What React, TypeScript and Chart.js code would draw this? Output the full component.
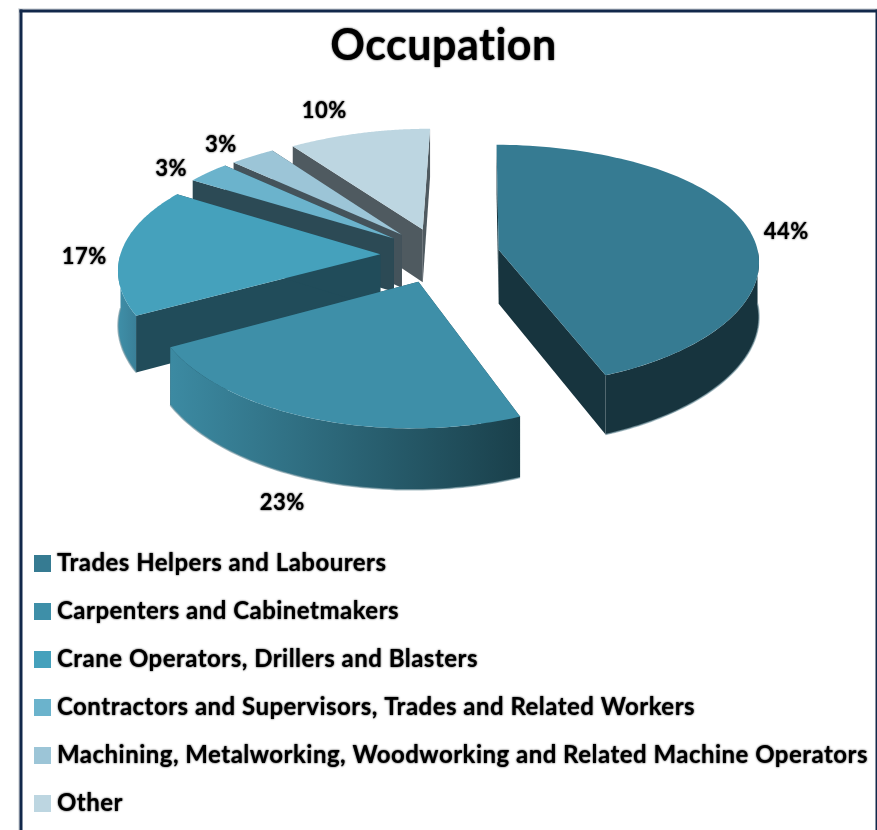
import React, { useEffect, useRef } from "react";
import { Chart, registerables } from "chart.js";

Chart.register(...registerables);

const categories = [
  "Trades Helpers and Labourers",
  "Carpenters and Cabinetmakers",
  "Crane Operators, Drillers and Blasters",
  "Contractors and Supervisors, Trades and Related Workers",
  "Machining, Metalworking, Woodworking and Related Machine Operators",
  "Other",
];
const shares = [44, 23, 17, 3, 3, 10];
const topColors = ["#367B92", "#3E8FA8", "#45A1BC", "#6BB3CC", "#9CC5D7", "#BDD6E1"];
const edgeColors = ["#17343E", "#214C5A", "#214C5A", "#2C4A55", "#44535B", "#4F5A60"];
const rimFrom = ["#17343E", "#3C8AA2", "#3F8FA8", "#2C4A55", "#44535B", "#4F5A60"];
const rimTo = ["#17343E", "#1A404B", "#3A8098", "#2C4A55", "#44535B", "#4F5A60"];
const labelReach = [1.12, 1.2, 1.13, 1.13, 1.2, 1.25];
const labelNudgeX = [9, -6, -4, -15, -8, -25];
const labelNudgeY = [6, -10, 7, 4, 3, -1];

const FONT = "Lato, Carlito, 'Open Sans', sans-serif";
const CX = 440;
const VX = 480;
const CY = 255;
const RX = 260;
const RY = 120;
const DEPTH = 54;
const EXPLODE = 0.23;

const project = (X: number, Y: number, z = 0) => {
  const depthScale = 1 / (1 - 0.1 * Y);
  let p = depthScale;
  if (Y < -0.8) p *= 1 + (Y + 0.8) * 0.1;
  return {
    x: VX + (CX + RX * X - VX) * p,
    y: CY + (RY * Y) / (1 - 0.13 * Y) + z * DEPTH * depthScale,
  };
};

const swatch = (color: string) => {
  const c = document.createElement("canvas");
  c.width = 22;
  c.height = 17;
  const g = c.getContext("2d")!;
  g.fillStyle = color;
  g.fillRect(5, 0, 17, 17);
  return c;
};

const pie3d = {
  id: "pie3d",
  beforeUpdate(chart: any) {
    // a small letter spacing also switches off the "ti" ligature of the font
    chart.ctx.letterSpacing = "0.48px";
  },
  afterLayout(chart: any) {
    if (chart.titleBlock) {
      chart.titleBlock.left = 10;
      chart.titleBlock.right = 877;
    }
    const lg = chart.legend;
    if (lg) {
      lg.left = 11;
      lg.right = 870;
      lg.top = 527;
      lg.bottom = 2000;
    }
  },
  beforeDatasetsDraw(chart: any) {
    const ctx: CanvasRenderingContext2D = chart.ctx;
    const arcs = chart.getDatasetMeta(0).data;
    const slices = arcs.map((el: any, i: number) => {
      const { startAngle, endAngle } = el.getProps(["startAngle", "endAngle"], true);
      const mid = (startAngle + endAngle) / 2;
      return {
        i,
        a: startAngle,
        b: endAngle,
        mid,
        ax: Math.cos(mid) * EXPLODE,
        ay: Math.sin(mid) * EXPLODE,
      };
    });
    const order = [...slices].sort((s, t) => s.ay - t.ay);

    ctx.save();
    const textShadow = ctx.shadowColor;
    ctx.shadowColor = "transparent";
    ctx.shadowBlur = 0;
    for (const s of order) {
      const rim = (phi: number, z = 0) =>
        project(s.ax + Math.cos(phi), s.ay + Math.sin(phi), z);
      const apex = (z = 0) => project(s.ax, s.ay, z);

      // radial walls
      for (const phi of [s.a, s.b]) {
        ctx.beginPath();
        const q = [apex(0), rim(phi, 0), rim(phi, 1), apex(1)];
        q.forEach((pt, k) => (k ? ctx.lineTo(pt.x, pt.y) : ctx.moveTo(pt.x, pt.y)));
        ctx.closePath();
        ctx.fillStyle = edgeColors[s.i];
        ctx.fill();
      }

      // curved outer wall, only the part facing the viewer
      const from = Math.max(s.a, 0);
      const to = Math.min(s.b, Math.PI);
      if (to > from) {
        const steps = 64;
        const lower: { x: number; y: number }[] = [];
        ctx.beginPath();
        for (let k = 0; k <= steps; k++) {
          const phi = from + ((to - from) * k) / steps;
          const t = rim(phi, 0);
          k ? ctx.lineTo(t.x, t.y) : ctx.moveTo(t.x, t.y);
          lower.push(rim(phi, 1));
        }
        for (let k = steps; k >= 0; k--) ctx.lineTo(lower[k].x, lower[k].y);
        ctx.closePath();
        const xs = lower.map((p) => p.x);
        const g = ctx.createLinearGradient(Math.min(...xs), 0, Math.max(...xs), 0);
        g.addColorStop(0, rimFrom[s.i]);
        g.addColorStop(1, rimTo[s.i]);
        ctx.fillStyle = g;
        ctx.fill();
        ctx.beginPath();
        lower.forEach((p, k) => (k ? ctx.lineTo(p.x, p.y) : ctx.moveTo(p.x, p.y)));
        ctx.strokeStyle = "rgba(130,160,170,0.7)";
        ctx.lineWidth = 1.5;
        ctx.stroke();
      }

      // top face
      const steps = 96;
      ctx.beginPath();
      const c0 = apex(0);
      ctx.moveTo(c0.x, c0.y);
      for (let k = 0; k <= steps; k++) {
        const t = rim(s.a + ((s.b - s.a) * k) / steps);
        ctx.lineTo(t.x, t.y);
      }
      ctx.closePath();
      ctx.fillStyle = topColors[s.i];
      ctx.fill();
    }

    // percentage labels
    const total = shares.reduce((a, b) => a + b, 0);
    ctx.shadowColor = textShadow;
    ctx.shadowBlur = 2;
    ctx.font = `bold 22px ${FONT}`;
    ctx.textAlign = "center";
    ctx.textBaseline = "middle";
    ctx.fillStyle = "#000";
    for (const s of slices) {
      const reach = labelReach[s.i];
      const Y = s.ay + Math.sin(s.mid) * reach;
      const pos = project(s.ax + Math.cos(s.mid) * reach, Y, Y > 0.6 ? 1 : 0);
      const text = `${Math.round((shares[s.i] / total) * 100)}%`;
      ctx.fillText(text, pos.x + labelNudgeX[s.i], pos.y + labelNudgeY[s.i]);
    }
    ctx.restore();
    return false;
  },
  beforeDraw(chart: any) {
    const ctx: any = chart.ctx;
    ctx.save();
    ctx.fillStyle = "#BFC6CC";
    ctx.fillRect(18.5, 8.5, 1, 821.5);
    ctx.fillRect(18.5, 8.5, 858.5, 1);
    ctx.fillStyle = "#12284A";
    ctx.fillRect(19.5, 9.5, 3, 820.5);
    ctx.fillRect(19.5, 9.5, 857.5, 3);
    ctx.fillRect(875.5, 9.5, 1.5, 820.5);
    ctx.restore();
    // a faint black halo gives the heavy, soft lettering of the picture,
    // but the legend swatches must stay clean
    if (!ctx.__plainImages) {
      const draw = ctx.drawImage.bind(ctx);
      ctx.drawImage = (...args: any[]) => {
        ctx.save();
        ctx.shadowColor = "transparent";
        ctx.shadowBlur = 0;
        draw(...args);
        ctx.restore();
      };
      ctx.__plainImages = true;
    }
    ctx.shadowColor = "rgba(0,0,0,0.9)";
    ctx.shadowBlur = 2;
  },
  afterDraw(chart: any) {
    chart.ctx.shadowColor = "transparent";
    chart.ctx.shadowBlur = 0;
  },
};

export default function App() {
  const ref = useRef<HTMLCanvasElement>(null);
  useEffect(() => {
    document.body.style.margin = "0";
    const chart = new Chart(ref.current!, {
      type: "pie",
      data: {
        labels: categories,
        datasets: [{ data: shares, backgroundColor: topColors, borderWidth: 0 }],
      },
      plugins: [pie3d],
      options: {
        animation: false,
        responsive: false,
        layout: { padding: 0 },
        plugins: {
          tooltip: { enabled: false },
          title: {
            display: true,
            text: "Occupation",
            color: "#000",
            font: { family: FONT, size: 43, weight: "bold" },
            padding: { top: 20, bottom: 10 },
          },
          legend: {
            display: true,
            position: "left",
            align: "start",
            labels: {
              color: "#000",
              font: { family: FONT, size: 24, weight: "bold" },
              usePointStyle: true,
              pointStyleWidth: 10,
              padding: 24,
              generateLabels: () =>
                categories.map((text, index) => ({
                  text,
                  index,
                  fontColor: "#000",
                  fillStyle: topColors[index],
                  strokeStyle: topColors[index],
                  lineWidth: 0,
                  hidden: false,
                  pointStyle: swatch(topColors[index]),
                })),
            },
          },
        },
      } as any,
    });
    return () => chart.destroy();
  }, []);
  return <canvas ref={ref} width={877} height={830} style={{ display: "block" }} />;
}
